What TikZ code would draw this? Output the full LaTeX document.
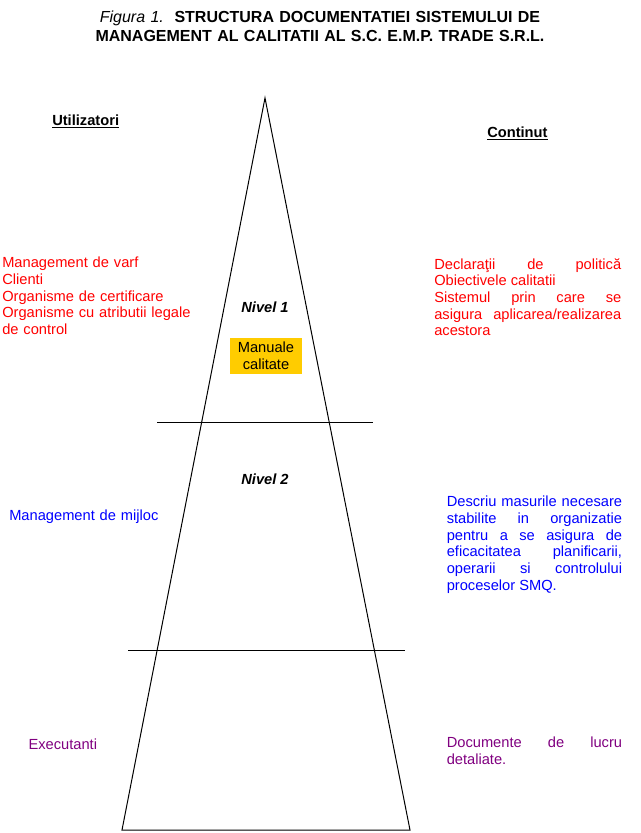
\documentclass[tikz,border=0pt]{standalone}
\usepackage{fontspec}
\setmainfont{Liberation Sans}
\usepackage{tikz}
\usetikzlibrary{arrows,calc}
\usepackage{xcolor}
\definecolor{userred}{HTML}{FF0000}
\definecolor{userblue}{HTML}{0000FF}
\definecolor{userpurple}{HTML}{800080}
\definecolor{manualfill}{HTML}{FFCC00}
\newcommand{\bodyfont}{\fontsize{11}{12.5}\selectfont}
\newcommand{\titlefont}{\fontsize{12}{14.25}\selectfont}

\begin{document}
\begin{tikzpicture}
        [   x = 0.75pt
        ,   y = -0.75pt
        ,   every node/.style =
            {   inner sep = 0pt
            ,   font = \bodyfont
            }
        ,   pyramid/.style = {line width = 0.75pt}
        ,   header/.style =
            {   anchor = base west
            ,   font = \bodyfont\bfseries
            }
        ,   usercol/.style =
            {   anchor = base west
            ,   text width = 230pt
            ,   align = left
            }
        ,   contentcol/.style =
            {   anchor = base west
            ,   text width = #1
            ,   align = justify
            }
        ,   levellabel/.style =
            {   anchor = base
            ,   font = \bodyfont\bfseries\itshape
            }
        ,   manualbox/.style =
            {   fill = manualfill
            ,   minimum width = 54pt
            ,   minimum height = 27pt
            ,   align = center
            }
        ]
        \useasboundingbox (0,0) rectangle (640,833);

        % title
        \node [anchor = base, text width = 350pt, align = center, font = \titlefont]
            (title) at (320,22.5)
            {\textit{Figura 1.}\ \ \textbf{STRUCTURA DOCUMENTATIEI SISTEMULUI DE}\\
             \textbf{MANAGEMENT AL CALITATII AL S.C. E.M.P. TRADE S.R.L.}};

        % pyramid
        \coordinate (apex)  at (265,98);
        \coordinate (baseL) at (122,830);
        \coordinate (baseR) at (410,830);
        \coordinate (cutAL) at (157,422);
        \coordinate (cutAR) at (373,422);
        \coordinate (cutBL) at (128,650);
        \coordinate (cutBR) at (405,650);
        \draw [pyramid] (apex) -- (baseR) -- (baseL) -- cycle;
        \draw [pyramid] (cutAL) -- (cutAR);
        \draw [pyramid] (cutBL) -- (cutBR);

        % headers
        \node [header] (users)   at (52,125)  {\underline{Utilizatori}};
        \node [header] (content) at (487,137) {\underline{Continut}};

        % level 1
        \node [levellabel] (nivelA) at (265,312.7) {Nivel 1};
        \node [manualbox] (manual) at (266,356) {Manuale\\calitate};
        \node [usercol, text = userred] (usersA) at (2,267.7)
            {Management de varf\\
             Clienti\\
             Organisme de certificare\\
             Organisme cu atributii legale\\
             de control};
        \node [contentcol = 140.25pt, text = userred] (contentA) at (434,269.3)
            {Declaraţii de politică\linebreak
             Obiectivele calitatii\\
             Sistemul prin care se\linebreak
             asigura aplicarea/realizarea\linebreak
             acestora};

        % level 2
        \node [levellabel] (nivelB) at (265,484) {Nivel 2};
        \node [usercol, text = userblue] (usersB) at (9,520) {Management de mijloc};
        \node [contentcol = 131.5pt, text = userblue] (contentB) at (446.5,506.7)
            {Descriu masurile necesare\linebreak
             stabilite in organizatie\linebreak
             pentru a se asigura de\linebreak
             eficacitatea planificarii,\linebreak
             operarii si controlului\linebreak
             proceselor SMQ.};

        % level 3
        \node [usercol, text = userpurple] (usersC) at (28.3,749) {Executanti};
        \node [contentcol = 131.5pt, text = userpurple] (contentC) at (446.5,747.7)
            {Documente de lucru\linebreak
             detaliate.};
    \end{tikzpicture}
\end{document}
